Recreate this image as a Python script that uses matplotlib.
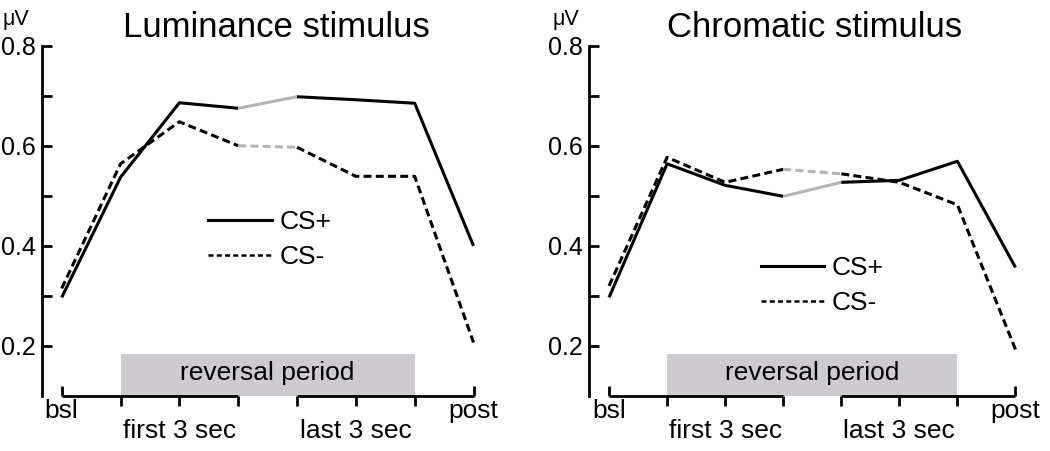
import numpy as np
import matplotlib.pyplot as plt
from matplotlib.patches import Rectangle
from matplotlib.lines import Line2D

plt.rcParams['font.family'] = ['Liberation Sans', 'DejaVu Sans']

# time points: bsl, 6 reversal bins, post
x = np.arange(8)
titles = ['Luminance stimulus', 'Chromatic stimulus']

lum_csp = [0.297, 0.537, 0.686, 0.675, 0.698, 0.692, 0.685, 0.400]
lum_csm = [0.315, 0.564, 0.648, 0.600, 0.597, 0.539, 0.539, 0.207]
chr_csp = [0.297, 0.564, 0.521, 0.499, 0.527, 0.531, 0.569, 0.357]
chr_csm = [0.320, 0.577, 0.527, 0.553, 0.544, 0.527, 0.482, 0.193]

yticks = [0.2, 0.4, 0.6, 0.8]
yminor = [0.3, 0.5, 0.7]
rev_start, rev_end = 1, 6
gray_seg = (3, 4)   # transition segment drawn in gray

LW = 2.2
GRAY = '#b4b4b4'
DASH = (2.6, 1.4)


def draw_series(ax, vals, dashed):
    vals = np.asarray(vals)
    a, b = gray_seg
    kw = dict(lw=LW, solid_capstyle='butt', dash_capstyle='butt')
    if dashed:
        kw['dashes'] = DASH
    ax.plot(x[:a + 1], vals[:a + 1], color='black', **kw)
    ax.plot(x[a:b + 1], vals[a:b + 1], color=GRAY, **kw)
    ax.plot(x[b:], vals[b:], color='black', **kw)


def make_panel(ax, title, csp, csm, leg_anchor, title_x, uv_x):
    ax.set_xlim(-0.34, 7.35)
    ax.set_ylim(0.1, 0.8)

    ax.add_patch(Rectangle((rev_start, 0.1), rev_end - rev_start, 0.083,
                           facecolor='#cdcad0', edgecolor='none', zorder=0))
    ax.text((rev_start + rev_end) / 2, 0.146, 'reversal period',
            ha='center', va='center', fontsize=19)

    draw_series(ax, csp, False)
    draw_series(ax, csm, True)

    for s in ['top', 'right', 'bottom']:
        ax.spines[s].set_visible(False)
    ax.spines['left'].set_linewidth(2.0)

    # broken x axis line
    ax.hlines([0.1, 0.1], [0, 4], [3, 7], colors='black', lw=2.0, clip_on=False)

    ax.set_yticks(yticks)
    ax.set_yticklabels(['0.2', '0.4', '0.6', '0.8'])
    ax.set_yticks(yminor, minor=True)
    ax.tick_params(axis='y', which='both', direction='in', length=7.2,
                   width=2.0, labelsize=18, pad=4.5)

    ax.set_xticks([1, 2, 3, 4, 5, 6])
    ax.set_xticklabels(['', 'first 3 sec', '', '', 'last 3 sec', ''])
    ax.set_xticks([0, 7], minor=True)
    ax.set_xticklabels(['bsl', 'post'], minor=True)
    ax.tick_params(axis='x', which='major', direction='out', length=7.2,
                   width=2.0, labelsize=19, pad=9)
    ax.tick_params(axis='x', which='minor', direction='in', length=7.2,
                   width=2.0, labelsize=19, pad=2)

    handles = [Line2D([], [], color='black', lw=2.2),
               Line2D([], [], color='black', lw=1.8, dashes=(2.0, 1.3))]
    ax.legend(handles, ['CS+', 'CS-'], loc='upper left', bbox_to_anchor=leg_anchor,
              frameon=False, fontsize=19, handlelength=2.4, handletextpad=0.3,
              labelspacing=0.42, borderpad=0, borderaxespad=0)

    fig.text(title_x, 0.919, title, ha='center', va='baseline', fontsize=25)
    fig.text(uv_x, 0.945, 'μV', ha='left', va='baseline', fontsize=15.5)


fig = plt.figure(figsize=(10.5, 4.51), dpi=100)
ax1 = fig.add_axes([41.7 / 1050, 55 / 451, 452.4 / 1050, 350.3 / 451])
ax2 = fig.add_axes([589.3 / 1050, 55 / 451, 446.5 / 1050, 350.3 / 451])

make_panel(ax1, titles[0], lum_csp, lum_csm, (0.368, 0.53), 276 / 1050, 3 / 1050)
make_panel(ax2, titles[1], chr_csp, chr_csm, (0.384, 0.40), 815 / 1050, 552 / 1050)

fig.savefig('out.png', dpi=100)
